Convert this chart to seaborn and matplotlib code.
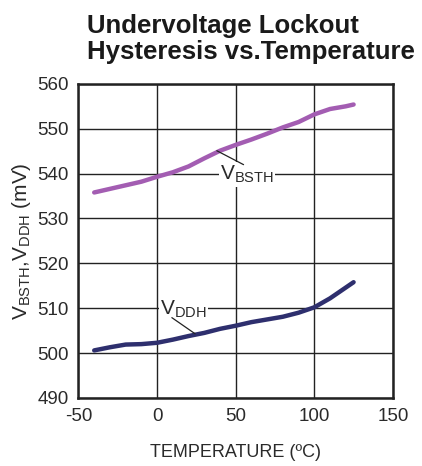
import matplotlib
matplotlib.use("Agg")
import matplotlib.pyplot as plt
import pandas as pd
import seaborn as sns

# data
temp_bsth = [-40, -30, -20, -10, 0, 10, 20, 30, 40, 50, 60, 70, 80, 90, 100, 110, 120, 125]
v_bsth = [535.8, 536.6, 537.4, 538.2, 539.3, 540.3, 541.6, 543.4, 545.1, 546.4,
          547.6, 548.9, 550.3, 551.5, 553.2, 554.4, 555.0, 555.4]
temp_ddh = [-40, -30, -20, -10, 0, 10, 20, 30, 40, 50, 60, 70, 80, 90, 100, 110, 120, 125]
v_ddh = [500.6, 501.3, 501.9, 502.0, 502.3, 503.0, 503.8, 504.5, 505.4, 506.1,
         506.9, 507.5, 508.1, 509.0, 510.2, 512.2, 514.6, 515.8]

x_ticks = [-50, 0, 50, 100, 150]
y_ticks = [490, 500, 510, 520, 530, 540, 550, 560]

df = pd.concat([
    pd.DataFrame({"temp": temp_bsth, "mv": v_bsth, "series": "BSTH"}),
    pd.DataFrame({"temp": temp_ddh, "mv": v_ddh, "series": "DDH"}),
])

sns.set_style("white")
plt.rcParams["font.family"] = ["Liberation Sans", "DejaVu Sans"]
plt.rcParams["mathtext.fontset"] = "custom"
plt.rcParams["mathtext.rm"] = "Liberation Sans"
plt.rcParams["axes.unicode_minus"] = False

fig = plt.figure(figsize=(4.22, 4.66), dpi=100)
ax = fig.add_axes([0.186, 0.146, 0.745, 0.674])

sns.lineplot(data=df, x="temp", y="mv", hue="series",
             palette={"BSTH": "#A35DB2", "DDH": "#2E2F6E"},
             linewidth=3.2, legend=False, ax=ax, zorder=3)

ax.set_xlim(-50, 150)
ax.set_ylim(490, 560)
ax.set_xticks(x_ticks)
ax.set_yticks(y_ticks)
ax.grid(True, color="#222222", linewidth=1.0)
ax.set_axisbelow(True)
ax.tick_params(length=0, labelsize=13.5, colors="#2a2a2a", pad=7)
for s in ax.spines.values():
    s.set_linewidth(1.8)
    s.set_color("#222222")

ax.set_xlabel("TEMPERATURE (ºC)", fontsize=13, color="#2a2a2a", labelpad=14)
ax.set_ylabel(r"V$_{\rm BSTH}$,V$_{\rm DDH}$ (mV)", fontsize=15, color="#2a2a2a", labelpad=3)

# curve labels with leader lines
ax.text(40, 539.8, r"V$_{\rm BSTH}$", fontsize=15, color="#2a2a2a", va="center", ha="left",
        bbox=dict(facecolor="white", edgecolor="none", pad=1), zorder=4)
ax.plot([38, 55], [545.1, 542.0], color="#222222", linewidth=0.9, zorder=4)
ax.text(2, 509.8, r"V$_{\rm DDH}$", fontsize=15, color="#2a2a2a", va="center", ha="left",
        bbox=dict(facecolor="white", edgecolor="none", pad=1), zorder=4)
ax.plot([9.4, 24.2], [507.9, 504.3], color="#222222", linewidth=0.9, zorder=4)

fig.text(0.205, 0.916, "Undervoltage Lockout\nHysteresis vs.Temperature",
         fontsize=18.5, fontweight="bold", color="#1a1a1a", ha="left", va="center",
         linespacing=1.1)

fig.savefig("out.png", dpi=100)
